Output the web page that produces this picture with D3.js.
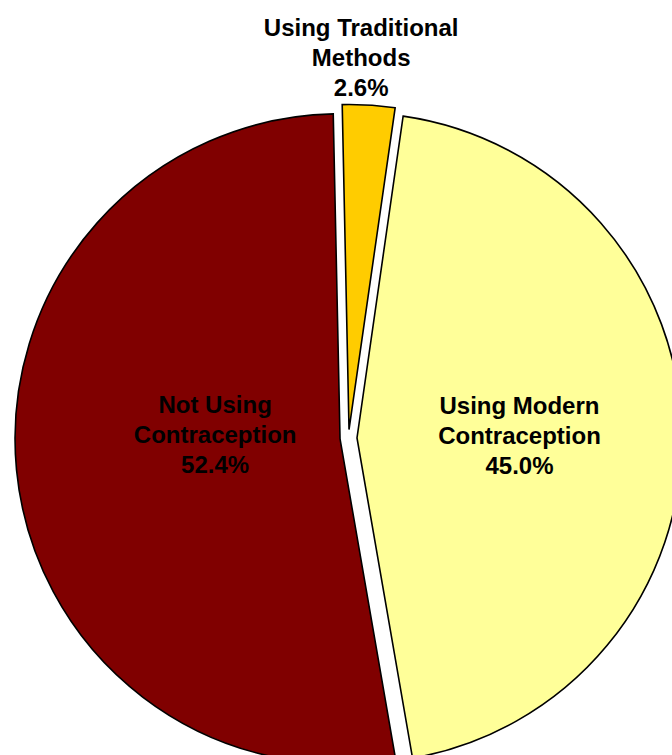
<!DOCTYPE html>
<html>
<head>
<meta charset="utf-8">
<script src="https://cdn.jsdelivr.net/npm/d3@7"></script>
<style>
  html, body { margin: 0; padding: 0; background: #fff; }
  svg { display: block; }
</style>
</head>
<body>
<div id="chart"></div>
<script>
// slice data, in drawing order (clockwise from just left of 12 o'clock)
const categories = ["Using Traditional Methods", "Using Modern Contraception", "Not Using Contraception"];
const labelLines = [["Using Traditional", "Methods"], ["Using Modern", "Contraception"], ["Not Using", "Contraception"]];
const values = [2.6, 45.0, 52.4];
const colors = ["#FFCC00", "#FFFF99", "#800000"];

const width = 672, height = 755;
const cx = 348.5, cy = 438;
const radius = 325;
const explode = 8.5;
const startDeg = -1.2;

// label placement along each slice bisector (radius from centre, nudges)
const labelLayout = [
  { r: 373, dx: -10, dy: -8 },
  { r: 171, dx: 0, dy: 0 },
  { r: 134, dx: 0, dy: -16 }
];

const svg = d3.select("#chart").append("svg")
    .attr("width", width)
    .attr("height", height);

const g = svg.append("g")
    .attr("transform", `translate(${cx},${cy})`);

const pie = d3.pie()
    .sort(null)
    .value(d => d)
    .startAngle(startDeg * Math.PI / 180)
    .endAngle(startDeg * Math.PI / 180 + 2 * Math.PI);

const arc = d3.arc()
    .innerRadius(0)
    .outerRadius(radius);

const slices = pie(values);

function mid(d) { return (d.startAngle + d.endAngle) / 2; }

g.selectAll("path.slice")
    .data(slices)
    .enter().append("path")
    .attr("class", "slice")
    .attr("transform", d => `translate(${explode * Math.sin(mid(d))},${-explode * Math.cos(mid(d))})`)
    .attr("d", arc)
    .attr("fill", (d, i) => colors[i])
    .attr("stroke", "#000")
    .attr("stroke-width", 1.6)
    .attr("stroke-linejoin", "miter");

const lineH = 30;

slices.forEach((d, i) => {
    const a = mid(d);
    const L = labelLayout[i];
    const lx = L.r * Math.sin(a) + L.dx;
    const ly = -L.r * Math.cos(a) + L.dy;
    const lines = labelLines[i].concat([values[i].toFixed(1) + "%"]);
    const t = g.append("text")
        .attr("text-anchor", "middle")
        .attr("font-family", "Arial, 'Liberation Sans', sans-serif")
        .attr("font-weight", "bold")
        .attr("font-size", 24)
        .attr("fill", "#000");
    lines.forEach((s, k) => {
        t.append("tspan")
            .attr("x", lx)
            .attr("y", ly + (k - 1) * lineH + 8.5)
            .text(s);
    });
});
</script>
</body>
</html>
